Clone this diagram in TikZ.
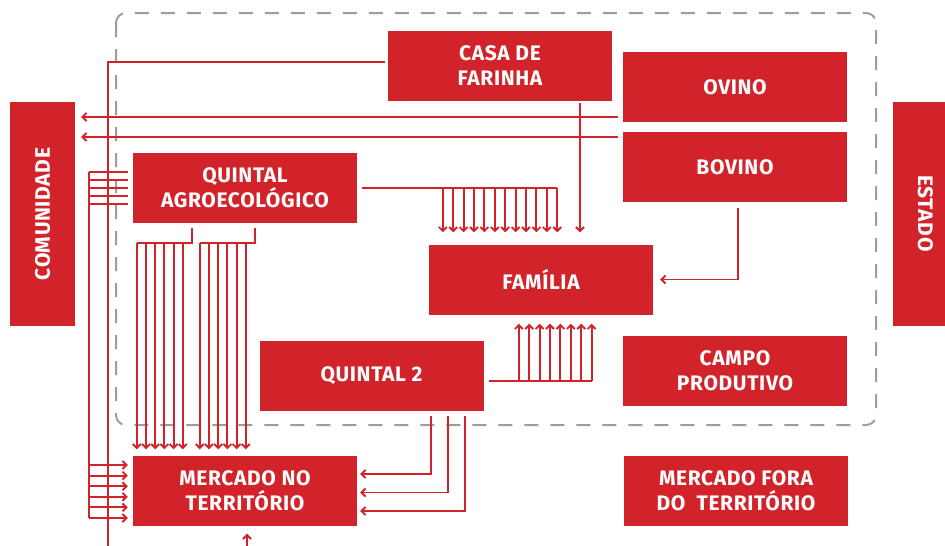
\documentclass[tikz,border=0pt]{standalone}
\usepackage{fontspec}
\setmainfont{Fira Sans}
\newfontfamily\boxfont{Fira Sans}[LetterSpace=3]
\usetikzlibrary{arrows.meta}
\definecolor{vermelho}{HTML}{D3232A}
\definecolor{cinza}{HTML}{9D9D9D}

\begin{document}
\begin{tikzpicture}[x=1pt, y=-1pt, >={Straight Barb[length=4pt,width=8pt]},
	box/.style={fill=vermelho, text=white, align=center, inner sep=0pt,
		font=\boxfont\bfseries\fontsize{21}{25}\selectfont,
		minimum width=224pt, minimum height=70pt},
	side/.style={box, minimum width=65pt, minimum height=224pt},
	flow/.style={draw=vermelho, line width=1.9pt}]

	\useasboundingbox (0,0) rectangle (945,546);

	% dashed frame
	\draw [cinza, line width=2pt, dash pattern=on 14pt off 12pt, rounded corners=10pt]
		(116,13) rectangle (876,425);

	% draw nodes
		% outside
		\node [side] (comunidade) at (42.5,214) {\rotatebox{90}{COMUNIDADE}};
		\node [side] (estado) at (925.5,213.5) {\rotatebox{-90}{ESTADO}};

		% inside the frame
		\node [box] (casa) at (500,66) {CASA DE\\FARINHA};
		\node [box] (ovino) at (735,87) {OVINO};
		\node [box] (bovino) at (735,167) {BOVINO};
		\node [box] (quintalA) at (245,188) {QUINTAL\\AGROECOLÓGICO};
		\node [box] (familia) at (541,279.5) {FAMÍLIA};
		\node [box] (quintal2) at (371.5,376) {QUINTAL 2};
		\node [box] (campo) at (735,371) {CAMPO\\PRODUTIVO};

		% markets
		\node [box] (mercadoNo) at (245,490.5) {MERCADO NO\\TERRITÓRIO};
		\node [box] (mercadoFora) at (736,491) {MERCADO FORA\\DO~~TERRITÓRIO};

	% free ends
	\coordinate (trunk) at (108,546);
	\coordinate (bus) at (89,0);
	\coordinate (below) at (247,546);

	% casa de farinha
	\draw [flow] ([xshift=-3pt,yshift=4pt]casa.west) -| (trunk);
	\draw [flow, ->, shorten >=12pt] ([xshift=80pt,yshift=-2pt]casa.south)
		-- ([xshift=80pt]casa.south |- familia.north);

	% ovino and bovino to comunidade
	\foreach \a/\dy in {ovino/-30, bovino/30}
		\draw [flow, ->, shorten >=6pt] ([xshift=-5pt,yshift=\dy pt]\a.west)
			-- ([yshift=\dy pt]\a.west -| comunidade.east);

	% bovino to familia
	\draw [flow, ->, shorten >=7pt] ([xshift=3pt,yshift=-6pt]bovino.south) |- (familia.east);

	% quintal agroecologico to familia
	\draw [flow] ([xshift=5pt]quintalA.east) -- ([xshift=128.4pt]familia.north west |- quintalA.east);
	\foreach \i in {0,...,11}
		\draw [flow, ->, shorten >=12pt] ([xshift={14pt+\i*10.4pt}]familia.north west |- quintalA.east)
			-- ([xshift={14pt+\i*10.4pt}]familia.north west);

	% quintal agroecologico to mercado no territorio
	\foreach \s/\x in {-53/4, 10/67} {
		\draw [flow] ([xshift=\s pt,yshift=-5pt]quintalA.south) |- ([xshift=\x pt,yshift=-20pt]quintalA.south west);
		\foreach \i in {0,...,5}
			\draw [flow, ->, shorten >=6pt] ([xshift={\x pt+\i*9.2pt},yshift=-20pt]quintalA.south west)
				-- ([xshift={\x pt+\i*9.2pt}]mercadoNo.north west);
	}

	% quintal 2 to mercado no territorio
	\foreach \dx/\dy in {-53/16.5, -36/-2, -19/-20.5}
		\draw [flow, ->, shorten >=3pt] ([xshift=\dx pt,yshift=-5pt]quintal2.south east)
			|- ([yshift=\dy pt]mercadoNo.east);

	% quintal 2 to familia
	\draw [flow] ([xshift=5pt,yshift=-5pt]quintal2.east) -- ([xshift=163pt,yshift=-5pt]familia.south west |- quintal2.east);
	\foreach \i in {0,...,7}
		\draw [flow, ->, shorten >=9pt] ([xshift={90pt+\i*10.4pt},yshift=-5pt]familia.south west |- quintal2.east)
			-- ([xshift={90pt+\i*10.4pt}]familia.south west);

	% left bus
	\draw [flow] ([yshift=16pt]quintalA.west -| bus) -- ([yshift=-27.5pt]mercadoNo.west -| bus);
	\foreach \dy in {16, 8, 0, -8, -16}
		\draw [flow] ([yshift=\dy pt]quintalA.west -| bus) -- ([xshift=-5pt,yshift=\dy pt]quintalA.west);
	\foreach \dy in {25.5, 14.9, 4.3, -6.3, -16.9, -27.5}
		\draw [flow, ->, shorten >=5pt] ([yshift=\dy pt]mercadoNo.west -| bus) -- ([yshift=\dy pt]mercadoNo.west);

	% from below
	\draw [flow, ->, shorten >=8pt] (below) -- ([xshift=2pt]mercadoNo.south |- below) -- ([xshift=2pt]mercadoNo.south);

\end{tikzpicture}
\end{document}
